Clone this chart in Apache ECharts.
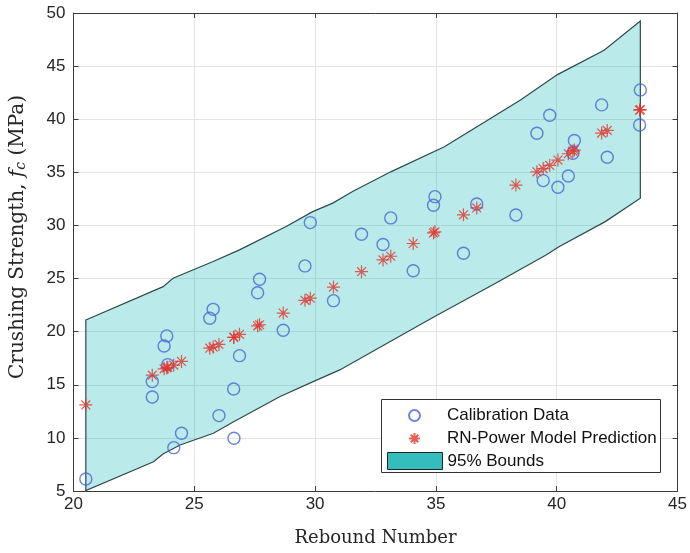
<!DOCTYPE html>
<html>
<head>
<meta charset="utf-8">
<script src="https://cdn.jsdelivr.net/npm/echarts@6/dist/echarts.min.js"></script>
<style>
html, body { margin: 0; padding: 0; background: #fff; }
#chart { width: 690px; height: 553px; }
</style>
</head>
<body>
<div id="chart"></div>
<script>
// calibration data (rebound number, crushing strength)
var calX = [20.51, 23.26, 23.26, 23.75, 23.86, 23.9, 24.15, 24.47, 25.64, 25.78,
  26.02, 26.63, 26.64, 26.87, 27.62, 27.7, 28.68, 29.58, 29.8, 30.76,
  31.92, 32.81, 33.13, 34.06, 34.9, 34.96, 36.14, 36.69, 38.31, 39.18,
  39.44, 39.71, 40.05, 40.48, 40.67, 40.73, 41.86, 42.09, 43.43, 43.46]
var calY = [6.13, 15.3, 13.85, 18.65, 19.6, 16.9, 9.08, 10.43, 21.26, 22.1,
  12.1, 14.6, 9.96, 17.74, 23.67, 24.93, 20.13, 26.19, 30.27, 22.92,
  29.17, 28.2, 30.71, 25.74, 31.9, 32.71, 27.38, 32.02, 30.99, 38.68,
  34.22, 40.37, 33.6, 34.66, 36.8, 37.99, 41.35, 36.42, 39.46, 42.76]

// model prediction
var predX = [20.51, 23.26, 23.75, 23.86, 23.9, 24.15, 24.47, 25.64, 25.78, 26.02,
  26.63, 26.64, 26.87, 27.62, 27.7, 28.68, 29.58, 29.8, 30.76, 31.92,
  32.81, 33.13, 34.06, 34.9, 34.96, 36.14, 36.69, 38.31, 39.18, 39.44,
  39.71, 40.05, 40.48, 40.67, 40.73, 41.86, 42.09, 43.43, 43.46]
var predY = [13.1, 15.9, 16.5, 16.6, 16.65, 16.85, 17.2, 18.45, 18.55, 18.8,
  19.45, 19.5, 19.75, 20.55, 20.65, 21.75, 22.95, 23.15, 24.2, 25.65,
  26.75, 27.1, 28.3, 29.3, 29.4, 31.0, 31.65, 33.8, 35.05, 35.35,
  35.65, 36.15, 36.75, 37.0, 37.1, 38.7, 38.95, 40.85, 40.9]

// 95% bounds
var upperX = [20.51, 23.71, 24.12, 25.78, 26.87, 28.8, 29.9, 30.73, 31.55, 33.15, 35.35, 38.5, 40.03, 41.96, 43.46]
var upperY = [21.1, 24.24, 25.03, 26.6, 27.7, 29.9, 31.3, 32.1, 33.2, 35.07, 37.4, 41.8, 44.2, 46.5, 49.25]
var lowerX = [20.51, 23.31, 23.72, 24.41, 25.79, 26.61, 28.55, 29.92, 31.02, 32.67, 34.93, 37.47, 39.54, 40.09, 42.01, 43.46]
var lowerY = [5.05, 7.76, 8.5, 9.33, 10.43, 11.5, 13.9, 15.3, 16.4, 18.5, 21.4, 24.55, 27.2, 28.0, 30.36, 32.56]

var calData = calX.map((x, i) => [x, calY[i]])
var predData = predX.map((x, i) => [x, predY[i]])

var starPath = 'path://M5,0L5,10M0,5L10,5M1.6,1.6L8.4,8.4M1.6,8.4L8.4,1.6'
var tickFont = { fontFamily: 'Liberation Sans', fontSize: 17, color: '#262626' }
var legendFont = { fontFamily: 'Liberation Sans', fontSize: 17, color: '#111' }

var chart = echarts.init(document.getElementById('chart'))

var axisCommon = {
  type: 'value',
  axisLine: { show: true, lineStyle: { color: '#3a3a3a', width: 1 } },
  axisTick: { show: true, inside: true, length: 5, lineStyle: { color: '#3a3a3a' } }
}

var option = {
  animation: false,
  backgroundColor: '#fff',
  grid: { left: 73, right: 11, top: 13, bottom: 62 },
  xAxis: [
    Object.assign({}, axisCommon, {
      min: 20, max: 45, interval: 5,
      name: 'Rebound Number', nameLocation: 'middle', nameGap: 38,
      nameTextStyle: { fontFamily: 'DejaVu Serif', fontSize: 18, color: '#262626' },
      axisLabel: Object.assign({ margin: 5 }, tickFont),
      splitLine: { show: true, lineStyle: { color: '#e4e4e4' } }
    }),
    Object.assign({}, axisCommon, {
      min: 20, max: 45, interval: 5, position: 'top',
      axisLabel: { show: false }, splitLine: { show: false }
    })
  ],
  yAxis: [
    Object.assign({}, axisCommon, {
      min: 5, max: 50, interval: 5,
      name: 'Crushing Strength, {it|f}{sub|c} (MPa)', nameLocation: 'middle', nameGap: 45,
      nameTextStyle: {
        fontFamily: 'DejaVu Serif', fontSize: 20, color: '#262626',
        padding: [0, 0, 0, 30],
        rich: {
          it: { fontFamily: 'DejaVu Serif', fontStyle: 'italic', fontSize: 20, color: '#262626' },
          sub: { fontFamily: 'DejaVu Serif', fontStyle: 'italic', fontSize: 14, color: '#262626', verticalAlign: 'bottom', padding: [7, 0, 0, 0] }
        }
      },
      axisLabel: Object.assign({ margin: 8 }, tickFont),
      splitLine: { show: true, lineStyle: { color: '#e4e4e4' } }
    }),
    Object.assign({}, axisCommon, {
      min: 5, max: 50, interval: 5, position: 'right',
      axisLabel: { show: false }, splitLine: { show: false }
    })
  ],
  legend: [
    {
      data: [{ name: 'Calibration Data', icon: 'circle' }],
      left: 408, top: 407, itemWidth: 55, itemHeight: 11, padding: 0, itemGap: 0, z: 20,
      textStyle: legendFont
    },
    {
      data: [{ name: 'RN-Power Model Prediction', icon: starPath }],
      left: 408, top: 430, itemWidth: 55, itemHeight: 11, padding: 0, itemGap: 0, z: 20,
      textStyle: legendFont
    },
    {
      data: [{ name: '95% Bounds', icon: 'rect' }],
      left: 387, top: 452, itemWidth: 55, itemHeight: 17, padding: 0, itemGap: 0, z: 20,
      itemStyle: { color: '#33bdbd', borderColor: '#222', borderWidth: 1 },
      textStyle: legendFont
    }
  ],
  graphic: [{
    type: 'rect', left: 381, top: 399, z: 10,
    shape: { width: 279, height: 73 },
    style: { fill: '#fff', stroke: '#333', lineWidth: 1 }
  }],
  series: [
    {
      name: '95% Bounds',
      type: 'custom',
      coordinateSystem: 'cartesian2d',
      data: [[upperX[0], upperY[0]]],
      itemStyle: { color: '#33bdbd' },
      z: 1,
      renderItem: function (params, api) {
        var pts = upperX.map((x, i) => api.coord([x, upperY[i]]))
        for (var i = lowerX.length - 1; i >= 0; i--) {
          pts.push(api.coord([lowerX[i], lowerY[i]]))
        }
        return {
          type: 'polygon',
          shape: { points: pts },
          style: { fill: 'rgba(0,178,178,0.27)', stroke: '#2e4a4a', lineWidth: 1.2 }
        }
      }
    },
    {
      name: 'Calibration Data',
      type: 'scatter',
      data: calData,
      symbol: 'circle',
      symbolSize: 12,
      z: 3,
      itemStyle: { color: 'rgba(0,0,0,0)', borderColor: '#4a64d2', borderWidth: 1.4 }
    },
    {
      name: 'RN-Power Model Prediction',
      type: 'scatter',
      data: predData,
      symbol: starPath,
      symbolSize: 13,
      z: 4,
      itemStyle: { color: 'rgba(0,0,0,0)', borderColor: '#e0342c', borderWidth: 1.2 }
    }
  ]
}

chart.setOption(option)
</script>
</body>
</html>
